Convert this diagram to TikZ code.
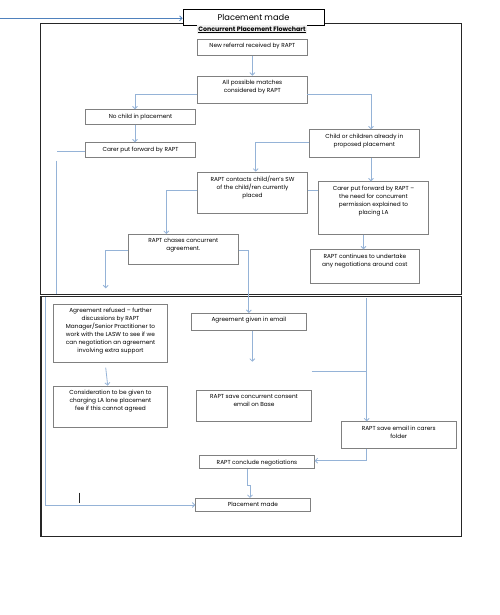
\documentclass[tikz,border=0pt]{standalone}
\usepackage{fontspec}
\setmainfont{Poppins}
\usepackage{tikz}
\definecolor{linkblue}{RGB}{149,179,215}
\definecolor{topblue}{RGB}{79,129,189}
\definecolor{boxgray}{RGB}{128,128,128}
\definecolor{framegray}{RGB}{38,38,38}
\tikzset{box/.style={draw=boxgray, line width=0.7pt, inner sep=0pt, fill=white},
 boxtext/.style={inner sep=0pt, align=center, font=\fontsize{5.8}{8}\selectfont},
 link/.style={draw=linkblue, line width=0.8pt},
 topline/.style={draw=topblue, line width=0.8pt},
 frame/.style={draw=framegray, line width=1.2pt},
 arrowed/.style={-{Straight Barb[length=2.5pt,width=5pt]}},
 }
\usetikzlibrary{positioning}
\usetikzlibrary{fit}
\usetikzlibrary{arrows.meta}
\newcommand{\flowbox}[6]{%
        \node[box, fit={(#2,#3) (#4,#5)}] (#1) {};
        \node[boxtext, below=4.3pt of #1.north] (#1-t) {#6};
}

\begin{document}
\begin{tikzpicture}[x=1pt, y=-1pt]
        \useasboundingbox (0,0) rectangle (499,615);
        % the two frames
        \draw[frame] (40.7,23.7) rectangle (461.7,294.3);
        \draw[frame] (41,296.5) rectangle (461.7,536.7);

        \node[box, draw=black, line width=0.8pt, minimum width=141pt, minimum height=16pt,
              font=\fontsize{8.3}{10}\selectfont] (topmade) at (253.5,17.3) {Placement made};
        \coordinate (topstart) at (0,18.3);
        \draw[topline, arrowed] (topstart) -- (topmade.west |- topstart);
        \node[inner sep=1pt, fill=gray!12, font=\fontsize{6.3}{7}\selectfont\bfseries] (title)
              at (252,29.8) {\underline{Concurrent Placement Flowchart}};

        % upper part
        \flowbox{newref}{197.7}{39}{307}{55.3}{New referral received by RAPT}
        \flowbox{allmatch}{197.7}{76}{307}{103.3}{All possible matches\\considered by RAPT}
        \flowbox{nochild}{85.7}{109.7}{195.3}{124.3}{No child in placement}
        \flowbox{carer}{85.7}{142.7}{195.3}{157.3}{Carer put forward by RAPT}
        \flowbox{already}{309.3}{129.7}{419.3}{157.3}{Child or children already in\\proposed placement}
        \flowbox{contact}{197.7}{172}{307.3}{213.3}{RAPT contacts child/ren's SW\\of the child/ren currently\\placed}
        \flowbox{carerla}{318.3}{181.7}{428.7}{234.3}{Carer put forward by RAPT –\\the need for concurrent\\permission explained to\\placing LA}
        \flowbox{chase}{128.3}{234.3}{238.3}{264.3}{RAPT chases concurrent\\agreement.}
        \flowbox{cost}{310}{249.7}{419.7}{283.3}{RAPT continues to undertake\\any negotiations around cost}

        % lower part
        \flowbox{refused}{53.3}{304.3}{167.7}{362}{Agreement refused – further\\discussions by RAPT\\Manager/Senior Practitioner to\\work with the LASW to see if we\\can negotiation an agreement\\involving extra support}
        \flowbox{given}{191.7}{313.3}{306}{330.3}{Agreement given in email}
        \flowbox{consider}{53.3}{386}{167.7}{427.3}{Consideration to be given to\\charging LA lone placement\\fee if this cannot agreed}
        \flowbox{savebase}{196.7}{390}{311.3}{421}{RAPT save concurrent consent\\email on Base}
        \flowbox{savefolder}{341.3}{421.7}{456}{448.3}{RAPT save email in carers\\folder}
        \flowbox{conclude}{199.7}{455.7}{314.3}{468.3}{RAPT conclude negotiations}
        \flowbox{made}{195.7}{498.3}{310.3}{511.7}{Placement made}

        % connectors, upper part
        \draw[link, arrowed] (newref.south) -- (allmatch.north);
        \draw[link, arrowed] ([yshift=-4.6pt]allmatch.west) -| ([xshift=-5.5pt]nochild.north);
        \draw[link, arrowed] ([yshift=-4.6pt]allmatch.east) -| ([xshift=6.7pt]already.north);
        \draw[link, arrowed] ([xshift=-5.5pt]nochild.south) -- ([xshift=-5.5pt]carer.north);
        \coordinate (carerend) at (56.7,151.7);
        \draw[link] (carerend -| carer.west) -- (carerend);
        \coordinate (lefttop) at (56,160.7);
        \coordinate (leftbot) at (56,294);
        \draw[link] (lefttop) -- (leftbot);
        \draw[link, arrowed] ([yshift=0.8pt]already.west) -| ([xshift=3.2pt]contact.north);
        \draw[link, arrowed] ([xshift=6.7pt]already.south) -- ([xshift=6.7pt]already.south |- carerla.north);
        \draw[link] ([yshift=2.6pt]contact.east) -- ([yshift=2.6pt]contact.east -| carerla.west);
        \draw[link, arrowed] ([yshift=2.6pt]contact.west) -| ([xshift=-17pt]chase.north);
        \coordinate (refusedin) at (105.7,288.3);
        \draw[link, arrowed] ([yshift=-0.7pt]chase.west) -| (refusedin);
        \draw[link, arrowed] ([yshift=-0.7pt]chase.east) -| (given.north);
        \draw[link, arrowed] ([xshift=-10pt]carerla.south) -- ([xshift=-10pt]carerla.south |- cost.north);

        % connectors, lower part
        \coordinate (foldertop) at (366.7,298);
        \draw[link, arrowed] (foldertop) -- (foldertop |- savefolder.north);
        \coordinate (sidestub) at (311.7,371.7);
        \draw[link] (sidestub) -- (sidestub -| foldertop);
        \draw[link, arrowed] ([xshift=-4.8pt,yshift=-5.3pt]refused.south) -- ([xshift=-2.8pt]consider.north);
        \coordinate (givenend) at (252.3,361.7);
        \draw[link, arrowed] (given.south -| givenend) -- (givenend);
        \draw[link, arrowed] (savefolder.south -| foldertop) |- ([yshift=1.3pt]conclude.east);
        \draw[link, arrowed] ([xshift=-9.3pt]conclude.south) -- ++(0,16.7) -| ([xshift=-3pt]made.north);
        \coordinate (leftlow) at (45.7,296.5);
        \draw[link, arrowed] (leftlow) |- (made.west);
        \draw[draw=framegray, line width=0.6pt] (79.3,492.7) -- (79.3,503.3);
\end{tikzpicture}
\end{document}
